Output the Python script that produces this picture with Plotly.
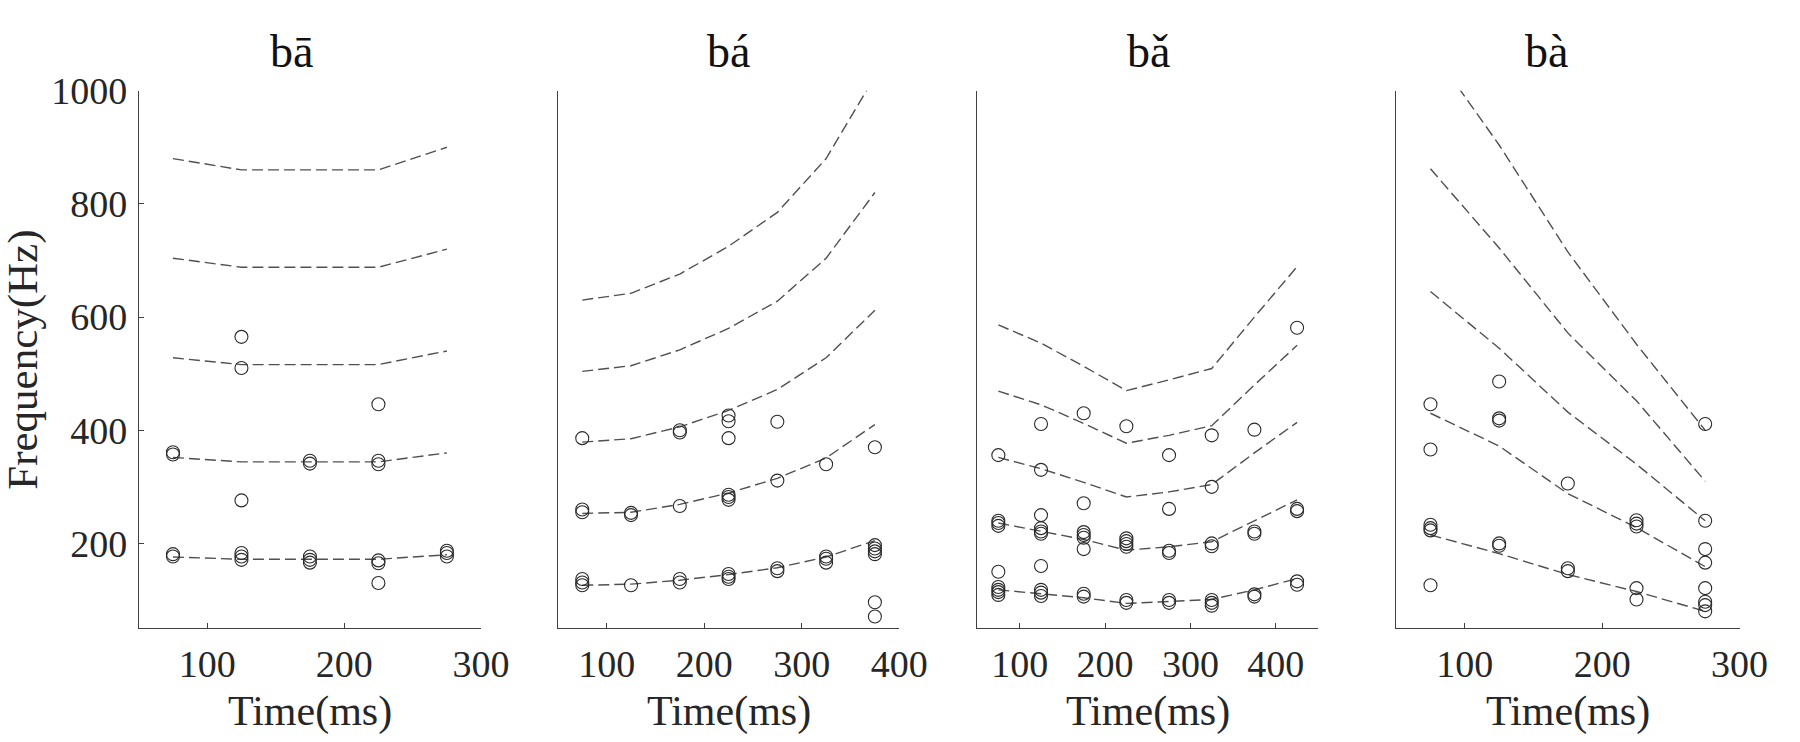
import plotly.graph_objects as go

# ---------------- data ----------------
titles = ["bā", "bá", "bǎ", "bà"]
x_ranges = [[50, 300], [50, 400], [50, 450], [50, 300]]
x_ticks = [[100, 200, 300], [100, 200, 300, 400], [100, 200, 300, 400], [100, 200, 300]]
y_ticks = [200, 400, 600, 800, 1000]

# harmonic contour lines (Hz)
line_x_p1 = [75, 125, 175, 225, 275]
lines_p1 = [
    [176, 172, 172, 172, 180],
    [352, 344, 344, 344, 360],
    [528, 516, 516, 516, 540],
    [704, 688, 688, 688, 720],
    [880, 860, 860, 860, 900],
]
line_x_p2 = [75, 125, 175, 225, 275, 325, 375]
lines_p2 = [
    [126, 128, 135, 145, 157, 176, 205],
    [253, 255, 269, 289, 315, 351, 410],
    [379, 385, 406, 435, 472, 528, 612],
    [504, 514, 542, 580, 628, 704, 820],
    [630, 642, 676, 725, 785, 880, 1025],
]
line_x_p3 = [75, 125, 175, 225, 275, 325, 375, 425]
lines_p3 = [
    [118, 111, 104, 94, 97, 101, 118, 138],
    [236, 222, 207, 188, 194, 203, 240, 277],
    [352, 332, 308, 282, 291, 304, 360, 414],
    [469, 445, 412, 377, 391, 408, 480, 550],
    [586, 554, 513, 470, 489, 509, 600, 689],
]
line_x_p4 = [75, 125, 175, 225, 275]
lines_p4 = [
    [215, 182, 145, 115, 80],
    [430, 372, 288, 228, 159],
    [645, 545, 432, 340, 240],
    [862, 722, 572, 452, 310],
    [1075, 904, 715, 552, 400],
]

# measured points (open circles)
pts_x_p1 = [75]*4 + [125]*6 + [175]*5 + [225]*6 + [275]*3
pts_y_p1 = [361, 357, 181, 177,
            565, 510, 276, 183, 177, 171,
            346, 341, 177, 171, 166,
            446, 346, 340, 170, 165, 130,
            187, 183, 177]
pts_x_p2 = [75]*6 + [125]*3 + [175]*5 + [225]*9 + [275]*4 + [325]*4 + [375]*7
pts_y_p2 = [386, 260, 255, 137, 131, 126,
            254, 250, 126,
            400, 396, 266, 137, 131,
            426, 416, 386, 286, 282, 277, 146, 141, 137,
            415, 311, 156, 151,
            340, 177, 173, 166,
            370, 197, 191, 186, 181, 96, 71]
pts_x_p3 = [75]*9 + [125]*10 + [175]*8 + [225]*7 + [275]*6 + [325]*7 + [375]*5 + [425]*5
pts_y_p3 = [356, 240, 236, 231, 150, 123, 118, 114, 109,
            411, 330, 250, 227, 221, 217, 160, 118, 113, 107,
            430, 271, 220, 215, 210, 190, 111, 106,
            407, 209, 204, 199, 194, 100, 95,
            356, 261, 187, 183, 100, 95,
            391, 300, 200, 195, 100, 95, 90,
            401, 221, 217, 110, 106,
            581, 261, 257, 133, 127]
pts_x_p4 = [75]*6 + [125]*5 + [175]*3 + [225]*5 + [275]*8
pts_y_p4 = [446, 366, 233, 227, 223, 126,
            486, 421, 417, 200, 196,
            306, 156, 151,
            241, 235, 230, 121, 101,
            411, 240, 190, 166, 121, 97, 91, 80]

panels = [
    (line_x_p1, lines_p1, pts_x_p1, pts_y_p1),
    (line_x_p2, lines_p2, pts_x_p2, pts_y_p2),
    (line_x_p3, lines_p3, pts_x_p3, pts_y_p3),
    (line_x_p4, lines_p4, pts_x_p4, pts_y_p4),
]

# ---------------- layout geometry (px) ----------------
W, H = 1800, 742
x_px = [(141, 489), (567, 914), (993, 1340), (1419, 1768)]
y_top, y_bot = 71.7, 625
title_cx = [296, 740, 1167, 1572]

FONT = "Liberation Serif, Times New Roman, serif"
AX = "#404040"
LINE_C = "#505050"
MARK_C = "#2a2a2a"

fig = go.Figure()
layout = dict(
    width=W, height=H,
    margin=dict(l=0, r=0, t=0, b=0),
    paper_bgcolor="white", plot_bgcolor="white",
    showlegend=False,
    font=dict(family=FONT, color="#262626"),
)

annotations = []
for i, (lx, lines, px, py) in enumerate(panels):
    n = i + 1
    xa = "x" if n == 1 else f"x{n}"
    ya = "y" if n == 1 else f"y{n}"
    for ly in lines:
        fig.add_trace(go.Scatter(
            x=lx, y=ly, mode="lines", xaxis=xa, yaxis=ya,
            line=dict(color=LINE_C, width=1.4, dash="11px,5px"),
            hoverinfo="skip"))
    fig.add_trace(go.Scatter(
        x=px, y=py, mode="markers", xaxis=xa, yaxis=ya,
        marker=dict(symbol="circle-open", size=13, color=MARK_C,
                    line=dict(width=1.1, color=MARK_C)),
        cliponaxis=False))

    x0, x1 = x_px[i]
    xkey = "xaxis" if n == 1 else f"xaxis{n}"
    ykey = "yaxis" if n == 1 else f"yaxis{n}"
    layout[xkey] = dict(
        domain=[x0 / W, x1 / W], anchor=ya,
        range=x_ranges[i], tickvals=x_ticks[i],
        showline=True, linecolor=AX, linewidth=1,
        ticks="inside", ticklen=5, tickcolor=AX, tickwidth=1,
        showgrid=False, zeroline=False,
        tickfont=dict(family=FONT, size=38, color="#262626"),
        ticklabelstandoff=2,
    )
    ycfg = dict(
        domain=[1 - y_bot / H, 1 - y_top / H], anchor=xa,
        range=[50, 1000],
        showline=True, linecolor=AX, linewidth=1,
        showgrid=False, zeroline=False,
    )
    if n == 1:
        ycfg.update(tickvals=y_ticks, ticks="inside", ticklen=5,
                    tickcolor=AX, tickwidth=1,
                    tickfont=dict(family=FONT, size=38, color="#262626"),
                    ticklabelstandoff=3)
    else:
        ycfg.update(showticklabels=False, ticks="")
    layout[ykey] = ycfg

    annotations.append(dict(
        text=titles[i], x=title_cx[i] / W, y=1 - 31 / H,
        xref="paper", yref="paper", xanchor="center", yanchor="middle",
        showarrow=False, font=dict(family=FONT, size=46, color="#111")))
    annotations.append(dict(
        text="Time(ms)", x=(x0 + x1) / 2 / W, y=1 - 711 / H,
        xref="paper", yref="paper", xanchor="center", yanchor="middle",
        showarrow=False, font=dict(family=FONT, size=42, color="#262626")))

annotations.append(dict(
    text="Frequency(Hz)", x=23 / W, y=1 - 349 / H, textangle=-90,
    xref="paper", yref="paper", xanchor="center", yanchor="middle",
    showarrow=False, font=dict(family=FONT, size=43, color="#262626")))

layout["annotations"] = annotations
fig.update_layout(**layout)
fig.write_html(
    "out.html",
    config={"displayModeBar": False},
    post_script="document.body.style.margin='0';document.body.style.overflow='hidden';",
)
